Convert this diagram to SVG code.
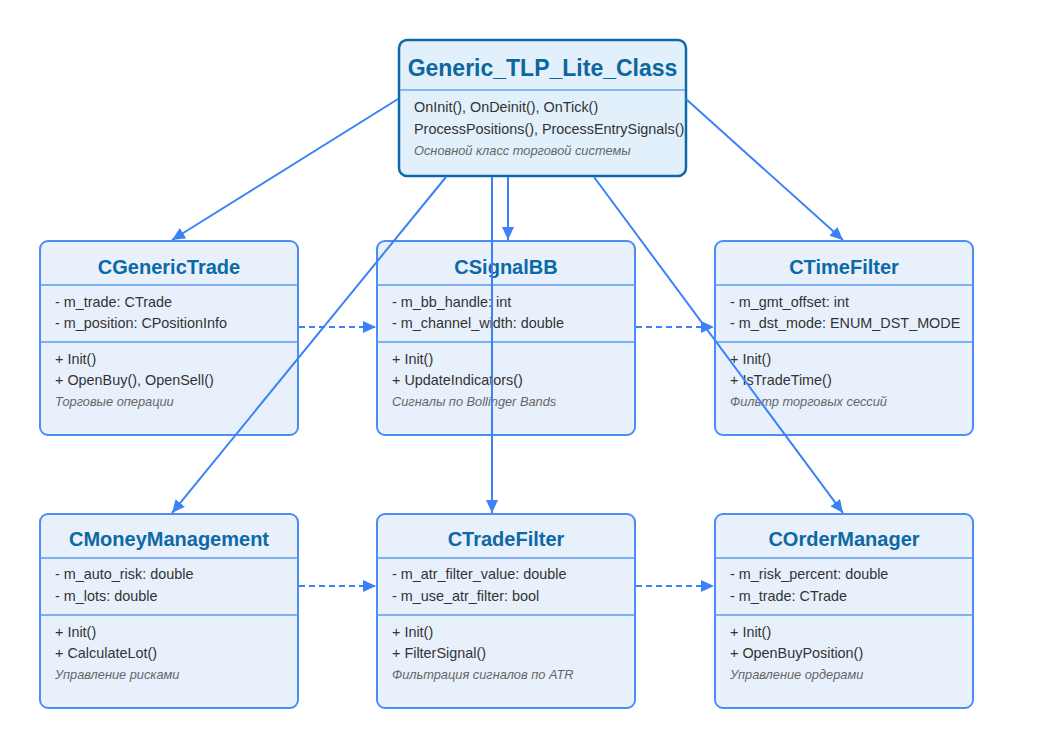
<svg xmlns="http://www.w3.org/2000/svg" width="1048" height="750" viewBox="0 0 1048 750">
<defs>
<marker id="arr" markerUnits="userSpaceOnUse" markerWidth="14" markerHeight="12" refX="13" refY="6" orient="auto">
<path d="M0,0 L13,6 L0,12 z" fill="#3b82f6"/>
</marker>
<style>
.box{fill:#e8f0fc;stroke:#4b8cf5;stroke-width:2}
.main{fill:#e1f0fb;stroke:#0c6aa6;stroke-width:2.5}
.div{stroke:#5b9af2;stroke-width:1.5}
.mdiv{stroke:#6aa6e6;stroke-width:1.5}
.t{font-family:"Liberation Sans",Arial,sans-serif;font-weight:bold;font-size:20px;fill:#0d69a5;text-anchor:middle}
.mt{font-family:"Liberation Sans",Arial,sans-serif;font-weight:bold;font-size:23px;fill:#0c66a0;text-anchor:middle}
.a{font-family:"Liberation Sans",Arial,sans-serif;font-size:14.4px;fill:#333}
.n{font-family:"Liberation Sans",Arial,sans-serif;font-size:12.8px;font-style:italic;fill:#666}
.c{stroke:#3b82f6;stroke-width:2;fill:none}
.d{stroke:#3b82f6;stroke-width:2;fill:none;stroke-dasharray:6,4}
</style>
</defs>
<rect width="1048" height="750" fill="#ffffff"/>

<g id="main">
<rect class="main" x="399" y="40" width="287" height="136" rx="8"/>
<line class="mdiv" x1="400" y1="90" x2="685" y2="90"/>
<text class="mt" x="542.5" y="76">Generic_TLP_Lite_Class</text>
<text class="a" x="414" y="112">OnInit(), OnDeinit(), OnTick()</text>
<text class="a" x="414" y="134">ProcessPositions(), ProcessEntrySignals()</text>
<text class="n" x="414" y="155">Основной класс торговой системы</text>
</g>

<g id="CGenericTrade">
<rect class="box" x="40" y="241" width="258" height="194" rx="8"/>
<line class="div" x1="40" y1="285" x2="298" y2="285"/>
<line class="div" x1="40" y1="342" x2="298" y2="342"/>
<text class="t" x="169" y="274">CGenericTrade</text>
<text class="a" x="55" y="307">- m_trade: CTrade</text>
<text class="a" x="55" y="328">- m_position: CPositionInfo</text>
<text class="a" x="55" y="364">+ Init()</text>
<text class="a" x="55" y="385">+ OpenBuy(), OpenSell()</text>
<text class="n" x="55" y="406">Торговые операции</text>
</g>

<g id="CSignalBB">
<rect class="box" x="377" y="241" width="258" height="194" rx="8"/>
<line class="div" x1="377" y1="285" x2="635" y2="285"/>
<line class="div" x1="377" y1="342" x2="635" y2="342"/>
<text class="t" x="506" y="274">CSignalBB</text>
<text class="a" x="392" y="307">- m_bb_handle: int</text>
<text class="a" x="392" y="328">- m_channel_width: double</text>
<text class="a" x="392" y="364">+ Init()</text>
<text class="a" x="392" y="385">+ UpdateIndicators()</text>
<text class="n" x="392" y="406">Сигналы по Bollinger Bands</text>
</g>

<g id="CTimeFilter">
<rect class="box" x="715" y="241" width="258" height="194" rx="8"/>
<line class="div" x1="715" y1="285" x2="973" y2="285"/>
<line class="div" x1="715" y1="342" x2="973" y2="342"/>
<text class="t" x="844" y="274">CTimeFilter</text>
<text class="a" x="730" y="307">- m_gmt_offset: int</text>
<text class="a" x="730" y="328">- m_dst_mode: ENUM_DST_MODE</text>
<text class="a" x="730" y="364">+ Init()</text>
<text class="a" x="730" y="385">+ IsTradeTime()</text>
<text class="n" x="730" y="406">Фильтр торговых сессий</text>
</g>

<g id="CMoneyManagement">
<rect class="box" x="40" y="514" width="258" height="194" rx="8"/>
<line class="div" x1="40" y1="558" x2="298" y2="558"/>
<line class="div" x1="40" y1="615" x2="298" y2="615"/>
<text class="t" x="169" y="546">CMoneyManagement</text>
<text class="a" x="55" y="579">- m_auto_risk: double</text>
<text class="a" x="55" y="601">- m_lots: double</text>
<text class="a" x="55" y="637">+ Init()</text>
<text class="a" x="55" y="658">+ CalculateLot()</text>
<text class="n" x="55" y="679">Управление рисками</text>
</g>

<g id="CTradeFilter">
<rect class="box" x="377" y="514" width="258" height="194" rx="8"/>
<line class="div" x1="377" y1="558" x2="635" y2="558"/>
<line class="div" x1="377" y1="615" x2="635" y2="615"/>
<text class="t" x="506" y="546">CTradeFilter</text>
<text class="a" x="392" y="579">- m_atr_filter_value: double</text>
<text class="a" x="392" y="601">- m_use_atr_filter: bool</text>
<text class="a" x="392" y="637">+ Init()</text>
<text class="a" x="392" y="658">+ FilterSignal()</text>
<text class="n" x="392" y="679">Фильтрация сигналов по ATR</text>
</g>

<g id="COrderManager">
<rect class="box" x="715" y="514" width="258" height="194" rx="8"/>
<line class="div" x1="715" y1="558" x2="973" y2="558"/>
<line class="div" x1="715" y1="615" x2="973" y2="615"/>
<text class="t" x="844" y="546">COrderManager</text>
<text class="a" x="730" y="579">- m_risk_percent: double</text>
<text class="a" x="730" y="601">- m_trade: CTrade</text>
<text class="a" x="730" y="637">+ Init()</text>
<text class="a" x="730" y="658">+ OpenBuyPosition()</text>
<text class="n" x="730" y="679">Управление ордерами</text>
</g>

<g id="connectors">
<line class="c" x1="398" y1="99" x2="172" y2="240" marker-end="url(#arr)"/>
<line class="c" x1="686" y1="99" x2="843" y2="240" marker-end="url(#arr)"/>
<line class="c" x1="508" y1="177" x2="508" y2="240" marker-end="url(#arr)"/>
<line class="c" x1="446" y1="177" x2="172" y2="513" marker-end="url(#arr)"/>
<line class="c" x1="492" y1="177" x2="492" y2="513" marker-end="url(#arr)"/>
<line class="c" x1="594" y1="177" x2="843" y2="513" marker-end="url(#arr)"/>
<line class="d" x1="299" y1="327" x2="376" y2="327" marker-end="url(#arr)"/>
<line class="d" x1="636" y1="327" x2="714" y2="327" marker-end="url(#arr)"/>
<line class="d" x1="299" y1="586" x2="376" y2="586" marker-end="url(#arr)"/>
<line class="d" x1="636" y1="586" x2="714" y2="586" marker-end="url(#arr)"/>
</g>
</svg>
